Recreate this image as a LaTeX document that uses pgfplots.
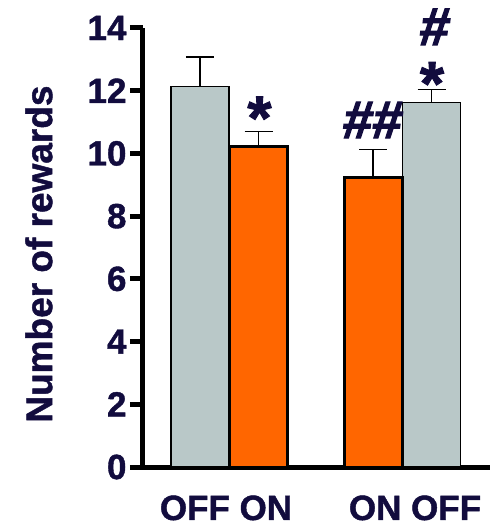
\documentclass[border=0pt]{standalone}
\usepackage{fontspec}
\setmainfont{Liberation Sans}
\font\hashfont="Liberation Sans/B:embolden=2.5;slant=0.12" at 53pt
\font\astfont="Liberation Sans/B:embolden=1.5" at 62pt
\font\tickfont="Liberation Sans/B:embolden=1.2" at 35pt
\font\labfont="Liberation Sans/B:embolden=1.2" at 37pt
\usepackage{pgfplots}
\pgfplotsset{compat=1.18}
\definecolor{txt}{RGB}{18,12,62}
\definecolor{grayb}{RGB}{185,200,200}
\definecolor{orangeb}{RGB}{255,102,0}
\begin{document}
\begin{tikzpicture}
\begin{axis}[
  scale only axis, width=347pt, height=439pt,
  xmin=143, xmax=490, ymin=0, ymax=14,
  axis lines*=left, axis line style={line width=5pt, black},
  clip=false,
  ytick={0,2,...,14},
  xtick={226,415}, xticklabels={OFF ON, ON OFF},
  x tick style={draw=none},
  y tick style={line width=5pt, black},
  tick align=outside, major tick length=13pt,
  ticklabel style={font=\tickfont, text=txt},
  /pgf/number format/assume math mode=true,
  xticklabel style={yshift=-12pt},
  ylabel={Number of rewards},
  ylabel style={font=\labfont, text=txt, at={(axis description cs:-0.300,0.485)}, anchor=center},
  error bars/y dir=plus, error bars/y explicit,
  error bars/error bar style={line width=1.5pt, black},
  error bars/error mark options={rotate=90, mark size=14pt, line width=1.5pt, black},
]
\addplot[ybar, bar width=58, bar shift=0pt, fill=grayb, draw=black, line width=1.5pt]
  coordinates {(200,12.14) +- (0,0.93) (431.5,11.63) +- (0,0.41)};
\addplot[ybar, bar width=58, bar shift=0pt, fill=orangeb, draw=black, line width=3pt]
  coordinates {(258.5,10.22) +- (0,0.48) (373,9.23) +- (0,0.90)};
\node[anchor=base, text=txt, font=\astfont] at (axis cs:259.5,10.45) {*};
\node[anchor=base, text=txt, font=\astfont] at (axis cs:432,11.55) {*};
\node[anchor=base, text=txt, font=\hashfont, inner sep=0pt] at (axis cs:371,10.49) {\#\#};
\node[anchor=base, text=txt, font=\hashfont, inner sep=0pt] at (axis cs:433,13.46) {\#};
\path (axis cs:0,-1.8815) rectangle (axis cs:500,14.893);
\end{axis}
\end{tikzpicture}
\end{document}
